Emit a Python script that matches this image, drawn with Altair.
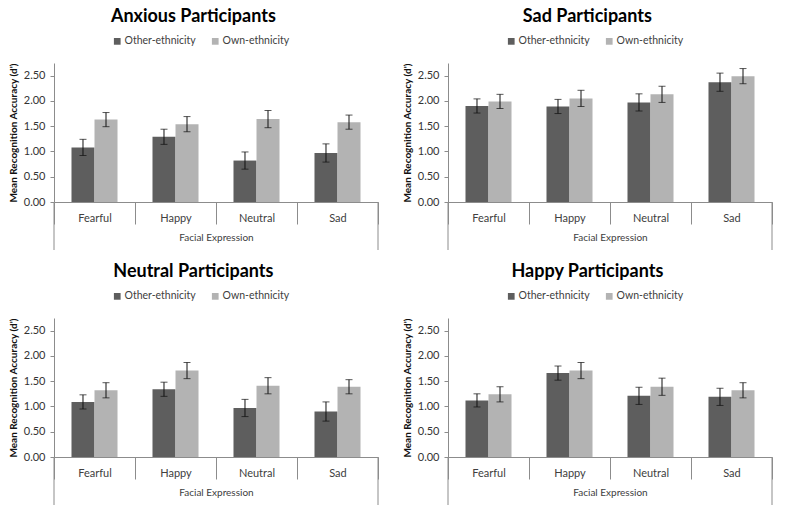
import altair as alt
import pandas as pd

expressions = ["Fearful", "Happy", "Neutral", "Sad"]
groups = ["Other-ethnicity", "Own-ethnicity"]
y_ticks = [0.0, 0.5, 1.0, 1.5, 2.0, 2.5]

# Anxious participants
anx_other = [1.08, 1.29, 0.82, 0.97]
anx_own = [1.63, 1.54, 1.64, 1.58]
anx_other_err = [0.16, 0.15, 0.17, 0.18]
anx_own_err = [0.14, 0.15, 0.17, 0.14]

# Sad participants
sad_other = [1.90, 1.89, 1.97, 2.37]
sad_own = [1.99, 2.05, 2.13, 2.49]
sad_other_err = [0.14, 0.14, 0.17, 0.18]
sad_own_err = [0.14, 0.16, 0.16, 0.15]

# Neutral participants
neu_other = [1.09, 1.34, 0.97, 0.90]
neu_own = [1.32, 1.71, 1.41, 1.39]
neu_other_err = [0.14, 0.14, 0.17, 0.19]
neu_own_err = [0.15, 0.16, 0.16, 0.14]

# Happy participants
hap_other = [1.12, 1.66, 1.21, 1.19]
hap_own = [1.24, 1.71, 1.39, 1.32]
hap_other_err = [0.13, 0.14, 0.17, 0.17]
hap_own_err = [0.15, 0.16, 0.17, 0.15]

FONT = "Lato"
AX = "#8c8c8c"
TXT = "#404040"
DARK = "#5e5e5e"
LIGHT = "#b3b3b3"
W, H = 324, 139


def panel(title, other, own, other_err, own_err):
    rows = []
    for i, e in enumerate(expressions):
        for g, m, s in ((groups[0], other[i], other_err[i]), (groups[1], own[i], own_err[i])):
            rows.append(dict(expression=e, group=g, mean=m, lo=m - s, hi=m + s))
    df = pd.DataFrame(rows)
    base = alt.Chart(df)

    x_axis = alt.Axis(
        title="Facial Expression", labelAngle=0, tickBand="extent", tickSize=22,
        tickColor=AX, domainColor=AX, labelPadding=-12, titlePadding=8,
        labelFont=FONT, labelFontSize=11, labelColor=TXT,
        titleFont=FONT, titleFontSize=10, titleFontWeight="normal", titleColor=TXT,
    )
    x = alt.X("expression:N", sort=expressions,
              scale=alt.Scale(domain=expressions, paddingInner=0, paddingOuter=0),
              axis=x_axis)
    xo = alt.XOffset("group:N", sort=groups,
                     scale=alt.Scale(domain=groups, paddingInner=0, paddingOuter=0.76))
    y_axis = alt.Axis(
        title="Mean Recognition Accuracy  (d')", values=y_ticks, format=".2f", grid=False,
        tickSize=4, tickColor=AX, domainColor=AX, labelPadding=5,
        labelFont=FONT, labelFontSize=11, labelColor="#333333",
        titleFont=FONT, titleFontSize=10, titleFontWeight="bold", titleColor="#111111",
        titlePadding=5,
    )
    yscale = alt.Scale(domain=[0, 2.75], nice=False)

    bars = base.mark_bar().encode(
        x=x, xOffset=xo,
        y=alt.Y("mean:Q", scale=yscale, axis=y_axis),
        color=alt.Color("group:N", sort=groups,
                        scale=alt.Scale(domain=groups, range=[DARK, LIGHT]),
                        legend=alt.Legend(
                            orient="none", legendX=58, legendY=-27, direction="horizontal",
                            title=None, symbolType="square", symbolSize=45,
                            symbolStrokeWidth=0, labelFont=FONT, labelFontSize=10.5,
                            labelColor=TXT, columnPadding=14, labelOffset=2, padding=0)),
    )
    err = base.mark_rule(color="#111111", strokeWidth=1).encode(
        x=x, xOffset=xo,
        y=alt.Y("lo:Q", scale=yscale, axis=y_axis), y2="hi:Q")
    cap_hi = base.mark_tick(color="#111111", size=7, thickness=1).encode(
        x=x, xOffset=xo, y=alt.Y("hi:Q", scale=yscale, axis=y_axis))
    cap_lo = base.mark_tick(color="#111111", size=7, thickness=1).encode(
        x=x, xOffset=xo, y=alt.Y("lo:Q", scale=yscale, axis=y_axis))
    edge_l = alt.Chart(pd.DataFrame({"k": [0]})).mark_rule(color=AX).encode(
        x=alt.value(0), y=alt.value(H), y2=alt.value(H + 48))
    edge_r = alt.Chart(pd.DataFrame({"k": [0]})).mark_rule(color=AX).encode(
        x=alt.value(W), y=alt.value(H), y2=alt.value(H + 48))

    return alt.layer(bars, err, cap_hi, cap_lo, edge_l, edge_r).properties(
        width=W, height=H,
        title=alt.TitleParams(text=title, font=FONT, fontSize=18, fontWeight="bold",
                              color="#000000", anchor="middle", frame="bounds", offset=10),
    )


p1 = panel("Anxious Participants", anx_other, anx_own, anx_other_err, anx_own_err)
p2 = panel("Sad Participants", sad_other, sad_own, sad_other_err, sad_own_err)
p3 = panel("Neutral Participants", neu_other, neu_own, neu_other_err, neu_own_err)
p4 = panel("Happy Participants", hap_other, hap_own, hap_other_err, hap_own_err)

chart = alt.vconcat(
    alt.hconcat(p1, p2, spacing=23).resolve_legend(color="independent").resolve_scale(color="independent"),
    alt.hconcat(p3, p4, spacing=23).resolve_legend(color="independent").resolve_scale(color="independent"),
    spacing=12,
).resolve_legend(color="independent").resolve_scale(color="independent").properties(
    padding={"left": 0, "top": 0, "right": 0, "bottom": 0}
).configure_view(stroke=None)

chart.save("out.html", embed_options={"renderer": "svg", "actions": False})
